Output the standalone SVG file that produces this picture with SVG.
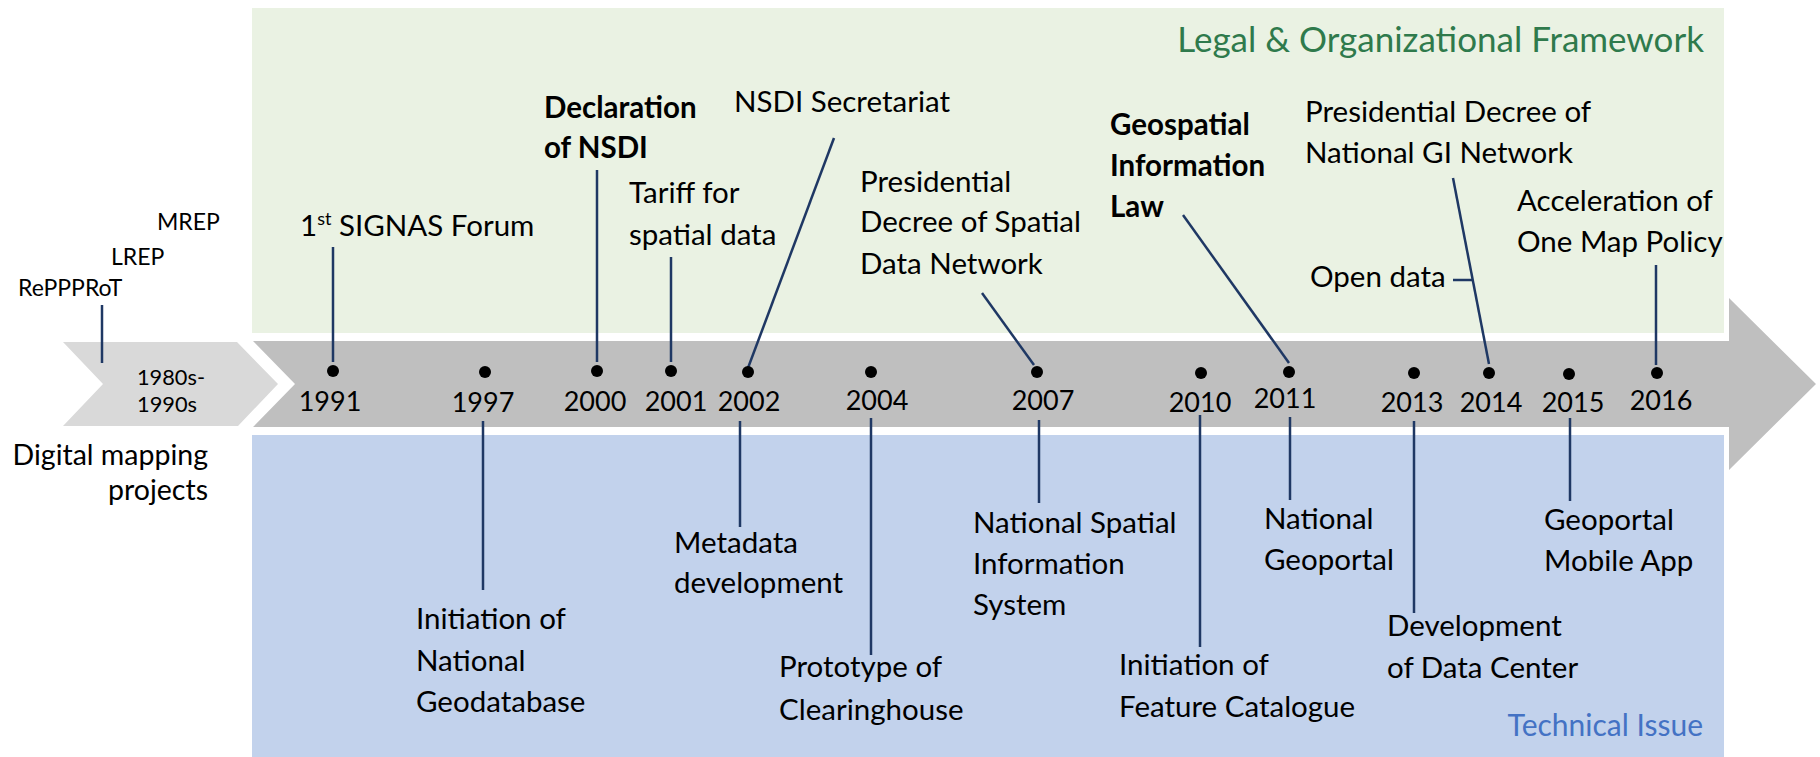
<svg xmlns="http://www.w3.org/2000/svg" width="1820" height="757" viewBox="0 0 1820 757">
<defs>
<style>
.lbl{font-family:Lato,"Liberation Sans",sans-serif;font-size:29.5px;fill:#000}
.b{font-weight:bold}
.yr{font-family:Lato,"Liberation Sans",sans-serif;font-size:27px;fill:#000;text-anchor:middle}
.sm{font-family:Lato,"Liberation Sans",sans-serif;font-size:23px;fill:#000}
.gs{font-family:Lato,"Liberation Sans",sans-serif;font-size:22px;fill:#000}
.con{stroke:#1F3864;stroke-width:2.5;fill:none}
.dot{fill:#000}
</style>
</defs>
<rect width="1820" height="757" fill="#fff"/>
<g id="panels">
<rect id="legal-panel" x="252" y="8" width="1472" height="325" fill="#EAF2E3"/>
<rect id="tech-panel" x="252" y="435" width="1472" height="322" fill="#C2D2EC"/>
<polygon id="timeline-arrow" points="253,341 1729,341 1729,298 1816,384 1729,470 1729,427 253,427 295,384" fill="#BFBFBF"/>
<polygon id="early-chevron" points="63,342 237,342 278,384 238,426 63,426 103,384" fill="#D9D9D9"/>
</g>
<g id="titles">
<text x="1704" y="52" text-anchor="end" style="font-family:Lato,'Liberation Sans',sans-serif;font-size:35px;fill:#2F7A4C">Legal &amp; Organizational Framework</text>
<text x="1703" y="736" text-anchor="end" style="font-family:Lato,'Liberation Sans',sans-serif;font-size:30px;fill:#4472C4">Technical Issue</text>
</g>
<g id="connectors">
<line class="con" x1="102" y1="305" x2="102" y2="363"/>
<line class="con" x1="333" y1="247" x2="333" y2="362"/>
<line class="con" x1="597" y1="170" x2="597" y2="362"/>
<line class="con" x1="671" y1="257" x2="671" y2="362"/>
<line class="con" x1="834" y1="138" x2="748" y2="368"/>
<line class="con" x1="982" y1="293" x2="1034" y2="365"/>
<line class="con" x1="1183" y1="215" x2="1289" y2="363"/>
<line class="con" x1="1453" y1="178" x2="1489" y2="364"/>
<line class="con" x1="1453" y1="280" x2="1473" y2="280"/>
<line class="con" x1="1656" y1="265" x2="1656" y2="365"/>
<line class="con" x1="483" y1="421" x2="483" y2="590"/>
<line class="con" x1="740" y1="421" x2="740" y2="527"/>
<line class="con" x1="871" y1="418" x2="871" y2="655"/>
<line class="con" x1="1039" y1="420" x2="1039" y2="503"/>
<line class="con" x1="1200" y1="415" x2="1200" y2="647"/>
<line class="con" x1="1290" y1="417" x2="1290" y2="500"/>
<line class="con" x1="1414" y1="421" x2="1414" y2="613"/>
<line class="con" x1="1570" y1="418" x2="1570" y2="501"/>
</g>
<g id="early">
<text class="sm" x="157" y="230">MREP</text>
<text class="sm" x="111" y="265">LREP</text>
<text class="sm" x="18" y="296">RePPPRoT</text>
<text class="gs" x="137" y="385" textLength="68" lengthAdjust="spacingAndGlyphs">1980s-</text>
<text class="gs" x="137" y="412" textLength="60" lengthAdjust="spacingAndGlyphs">1990s</text>
<text x="208" y="465" text-anchor="end" style="font-family:Lato,'Liberation Sans',sans-serif;font-size:28.5px">Digital mapping</text>
<text x="208" y="500" text-anchor="end" style="font-family:Lato,'Liberation Sans',sans-serif;font-size:28.5px">projects</text>
</g>
<g id="y1991"><circle class="dot" cx="333" cy="371" r="6"/><text class="yr" x="330" y="411">1991</text>
<text class="lbl" x="300" y="236">1<tspan font-size="18" dy="-11">st</tspan><tspan dy="11"> SIGNAS Forum</tspan></text></g>
<g id="y1997"><circle class="dot" cx="485" cy="372" r="6"/><text class="yr" x="483" y="412">1997</text>
<text class="lbl" x="416" y="629">Initiation of</text><text class="lbl" x="416" y="671">National</text><text class="lbl" x="416" y="712">Geodatabase</text></g>
<g id="y2000"><circle class="dot" cx="597" cy="371" r="6"/><text class="yr" x="595" y="411">2000</text>
<text class="lbl b" x="544" y="118">Declaration</text><text class="lbl b" x="544" y="158">of NSDI</text></g>
<g id="y2001"><circle class="dot" cx="671" cy="371" r="6"/><text class="yr" x="676" y="411">2001</text>
<text class="lbl" x="629" y="203">Tariff for</text><text class="lbl" x="629" y="245">spatial data</text></g>
<g id="y2002"><circle class="dot" cx="748" cy="372" r="6"/><text class="yr" x="749" y="411">2002</text>
<text class="lbl" x="734" y="112">NSDI Secretariat</text>
<text class="lbl" x="674" y="553">Metadata</text><text class="lbl" x="674" y="593">development</text></g>
<g id="y2004"><circle class="dot" cx="871" cy="372" r="6"/><text class="yr" x="877" y="410">2004</text>
<text class="lbl" x="779" y="677">Prototype of</text><text class="lbl" x="779" y="720">Clearinghouse</text></g>
<g id="y2007"><circle class="dot" cx="1037" cy="372" r="6"/><text class="yr" x="1043" y="410">2007</text>
<text class="lbl" x="860" y="192">Presidential</text><text class="lbl" x="860" y="232">Decree of Spatial</text><text class="lbl" x="860" y="274">Data Network</text>
<text class="lbl" x="973" y="533">National Spatial</text><text class="lbl" x="973" y="574">Information</text><text class="lbl" x="973" y="615">System</text></g>
<g id="y2010"><circle class="dot" cx="1201" cy="373" r="6"/><text class="yr" x="1200" y="412">2010</text>
<text class="lbl" x="1119" y="675">Initiation of</text><text class="lbl" x="1119" y="717">Feature Catalogue</text></g>
<g id="y2011"><circle class="dot" cx="1289" cy="372" r="6"/><text class="yr" x="1285" y="408">2011</text>
<text class="lbl b" x="1110" y="135">Geospatial</text><text class="lbl b" x="1110" y="176">Information</text><text class="lbl b" x="1110" y="217">Law</text>
<text class="lbl" x="1264" y="529">National</text><text class="lbl" x="1264" y="570">Geoportal</text></g>
<g id="y2013"><circle class="dot" cx="1414" cy="373" r="6"/><text class="yr" x="1412" y="412">2013</text>
<text class="lbl" x="1387" y="636">Development</text><text class="lbl" x="1387" y="678">of Data Center</text></g>
<g id="y2014"><circle class="dot" cx="1489" cy="373" r="6"/><text class="yr" x="1491" y="412">2014</text>
<text class="lbl" x="1305" y="122">Presidential Decree of</text><text class="lbl" x="1305" y="163">National GI Network</text>
<text class="lbl" x="1310" y="287">Open data</text></g>
<g id="y2015"><circle class="dot" cx="1569" cy="374" r="6"/><text class="yr" x="1573" y="412">2015</text>
<text class="lbl" x="1544" y="530">Geoportal</text><text class="lbl" x="1544" y="571">Mobile App</text></g>
<g id="y2016"><circle class="dot" cx="1657" cy="373" r="6"/><text class="yr" x="1661" y="410">2016</text>
<text class="lbl" x="1517" y="211">Acceleration of</text><text class="lbl" x="1517" y="252">One Map Policy</text></g>
</svg>
